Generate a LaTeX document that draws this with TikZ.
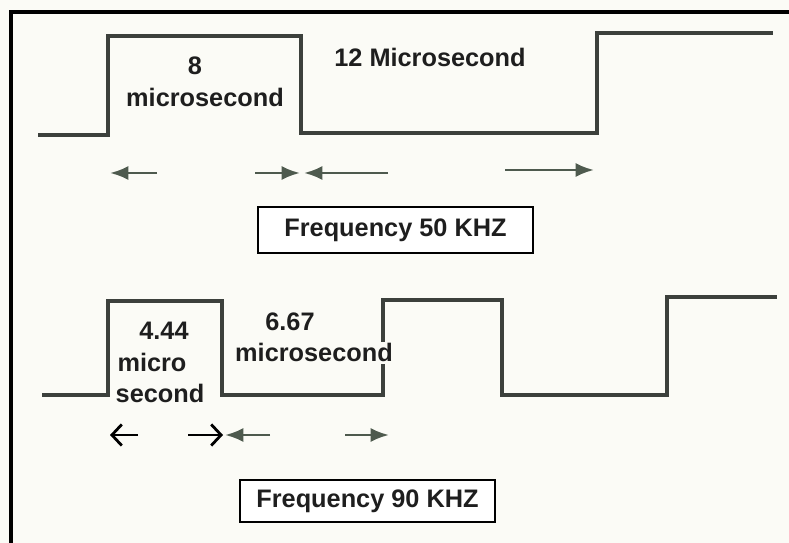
\documentclass[tikz,border=0pt]{standalone}
\usepackage{fontspec}
\setmainfont{Liberation Sans}
\usetikzlibrary{arrows.meta}

\definecolor{paper}{RGB}{251,251,246}
\definecolor{wave}{RGB}{60,64,60}
\definecolor{dimgray}{RGB}{78,90,78}
\definecolor{ink}{RGB}{30,30,30}

\tikzset{
  wave/.style={line width=2.6pt, draw=wave, line join=miter},
  label/.style={font=\fontsize{18}{20}\selectfont\bfseries, text=ink, anchor=base, inner sep=0pt},
  freqbox/.style={draw=black, line width=2pt, fill=white, font=\fontsize{18}{20}\selectfont\bfseries, text=ink, inner sep=0pt},
  grayarrow/.style={line width=2pt, draw=dimgray, -{Latex[length=13pt,width=10pt]}},
  blackarrow/.style={line width=2pt, draw=black, -{Straight Barb[length=7pt,width=15pt]}}
}

\begin{document}
\begin{tikzpicture}[x=0.025cm, y=-0.025cm]

\useasboundingbox (0,0) rectangle (789,543);
\fill[paper] (0,0) rectangle (789,543);
\draw[line width=2.2pt, black] (795,12) -- (11,12) -- (11,550);

\draw[wave] (38,135) -- (108,135) -- (108,36) -- (301,36) -- (301,133) -- (597,133) -- (597,33) -- (773,33);
\node[label] (eight) at (195,75) {8};
\node[label] (usA) at (205,107) {microsecond};
\node[label] (usB) at (430,67) {12 Microsecond};

\coordinate (a1s) at (157,173); \coordinate (a1e) at (110,173);
\coordinate (a2s) at (255,173); \coordinate (a2e) at (300,173);
\coordinate (a3s) at (388,173); \coordinate (a3e) at (304,173);
\coordinate (a4s) at (505,170); \coordinate (a4e) at (594,170);
\draw[grayarrow] (a1s) -- (a1e);
\draw[grayarrow] (a2s) -- (a2e);
\draw[grayarrow] (a3s) -- (a3e);
\draw[grayarrow] (a4s) -- (a4e);

\node[freqbox, minimum width=275*0.025cm, minimum height=46*0.025cm] (f50) at (395.5,230) {Frequency 50 KHZ};

\draw[wave] (42,395) -- (108,395) -- (108,301) -- (222,301) -- (222,395) -- (383,395) -- (383,300) -- (502,300) -- (502,395) -- (667,395) -- (667,297) -- (777,297);
\node[label] (t444) at (164,340) {4.44};
\node[label] (tmicro) at (152,372) {micro};
\node[label] (tsecond) at (160,403) {second};
\node[label] (t667) at (290,331) {6.67};
\node[label, fill=paper, inner sep=1pt] (usC) at (314,362) {microsecond};

\coordinate (b1s) at (138,435); \coordinate (b1e) at (110,435);
\coordinate (b2s) at (188,435); \coordinate (b2e) at (223,435);
\coordinate (b3s) at (270,435); \coordinate (b3e) at (225,435);
\coordinate (b4s) at (345,435); \coordinate (b4e) at (389,435);
\draw[blackarrow] (b1s) -- (b1e);
\draw[blackarrow] (b2s) -- (b2e);
\draw[grayarrow] (b3s) -- (b3e);
\draw[grayarrow] (b4s) -- (b4e);

\node[freqbox, minimum width=255*0.025cm, minimum height=42*0.025cm] (f90) at (367.5,501) {Frequency 90 KHZ};

\end{tikzpicture}
\end{document}
